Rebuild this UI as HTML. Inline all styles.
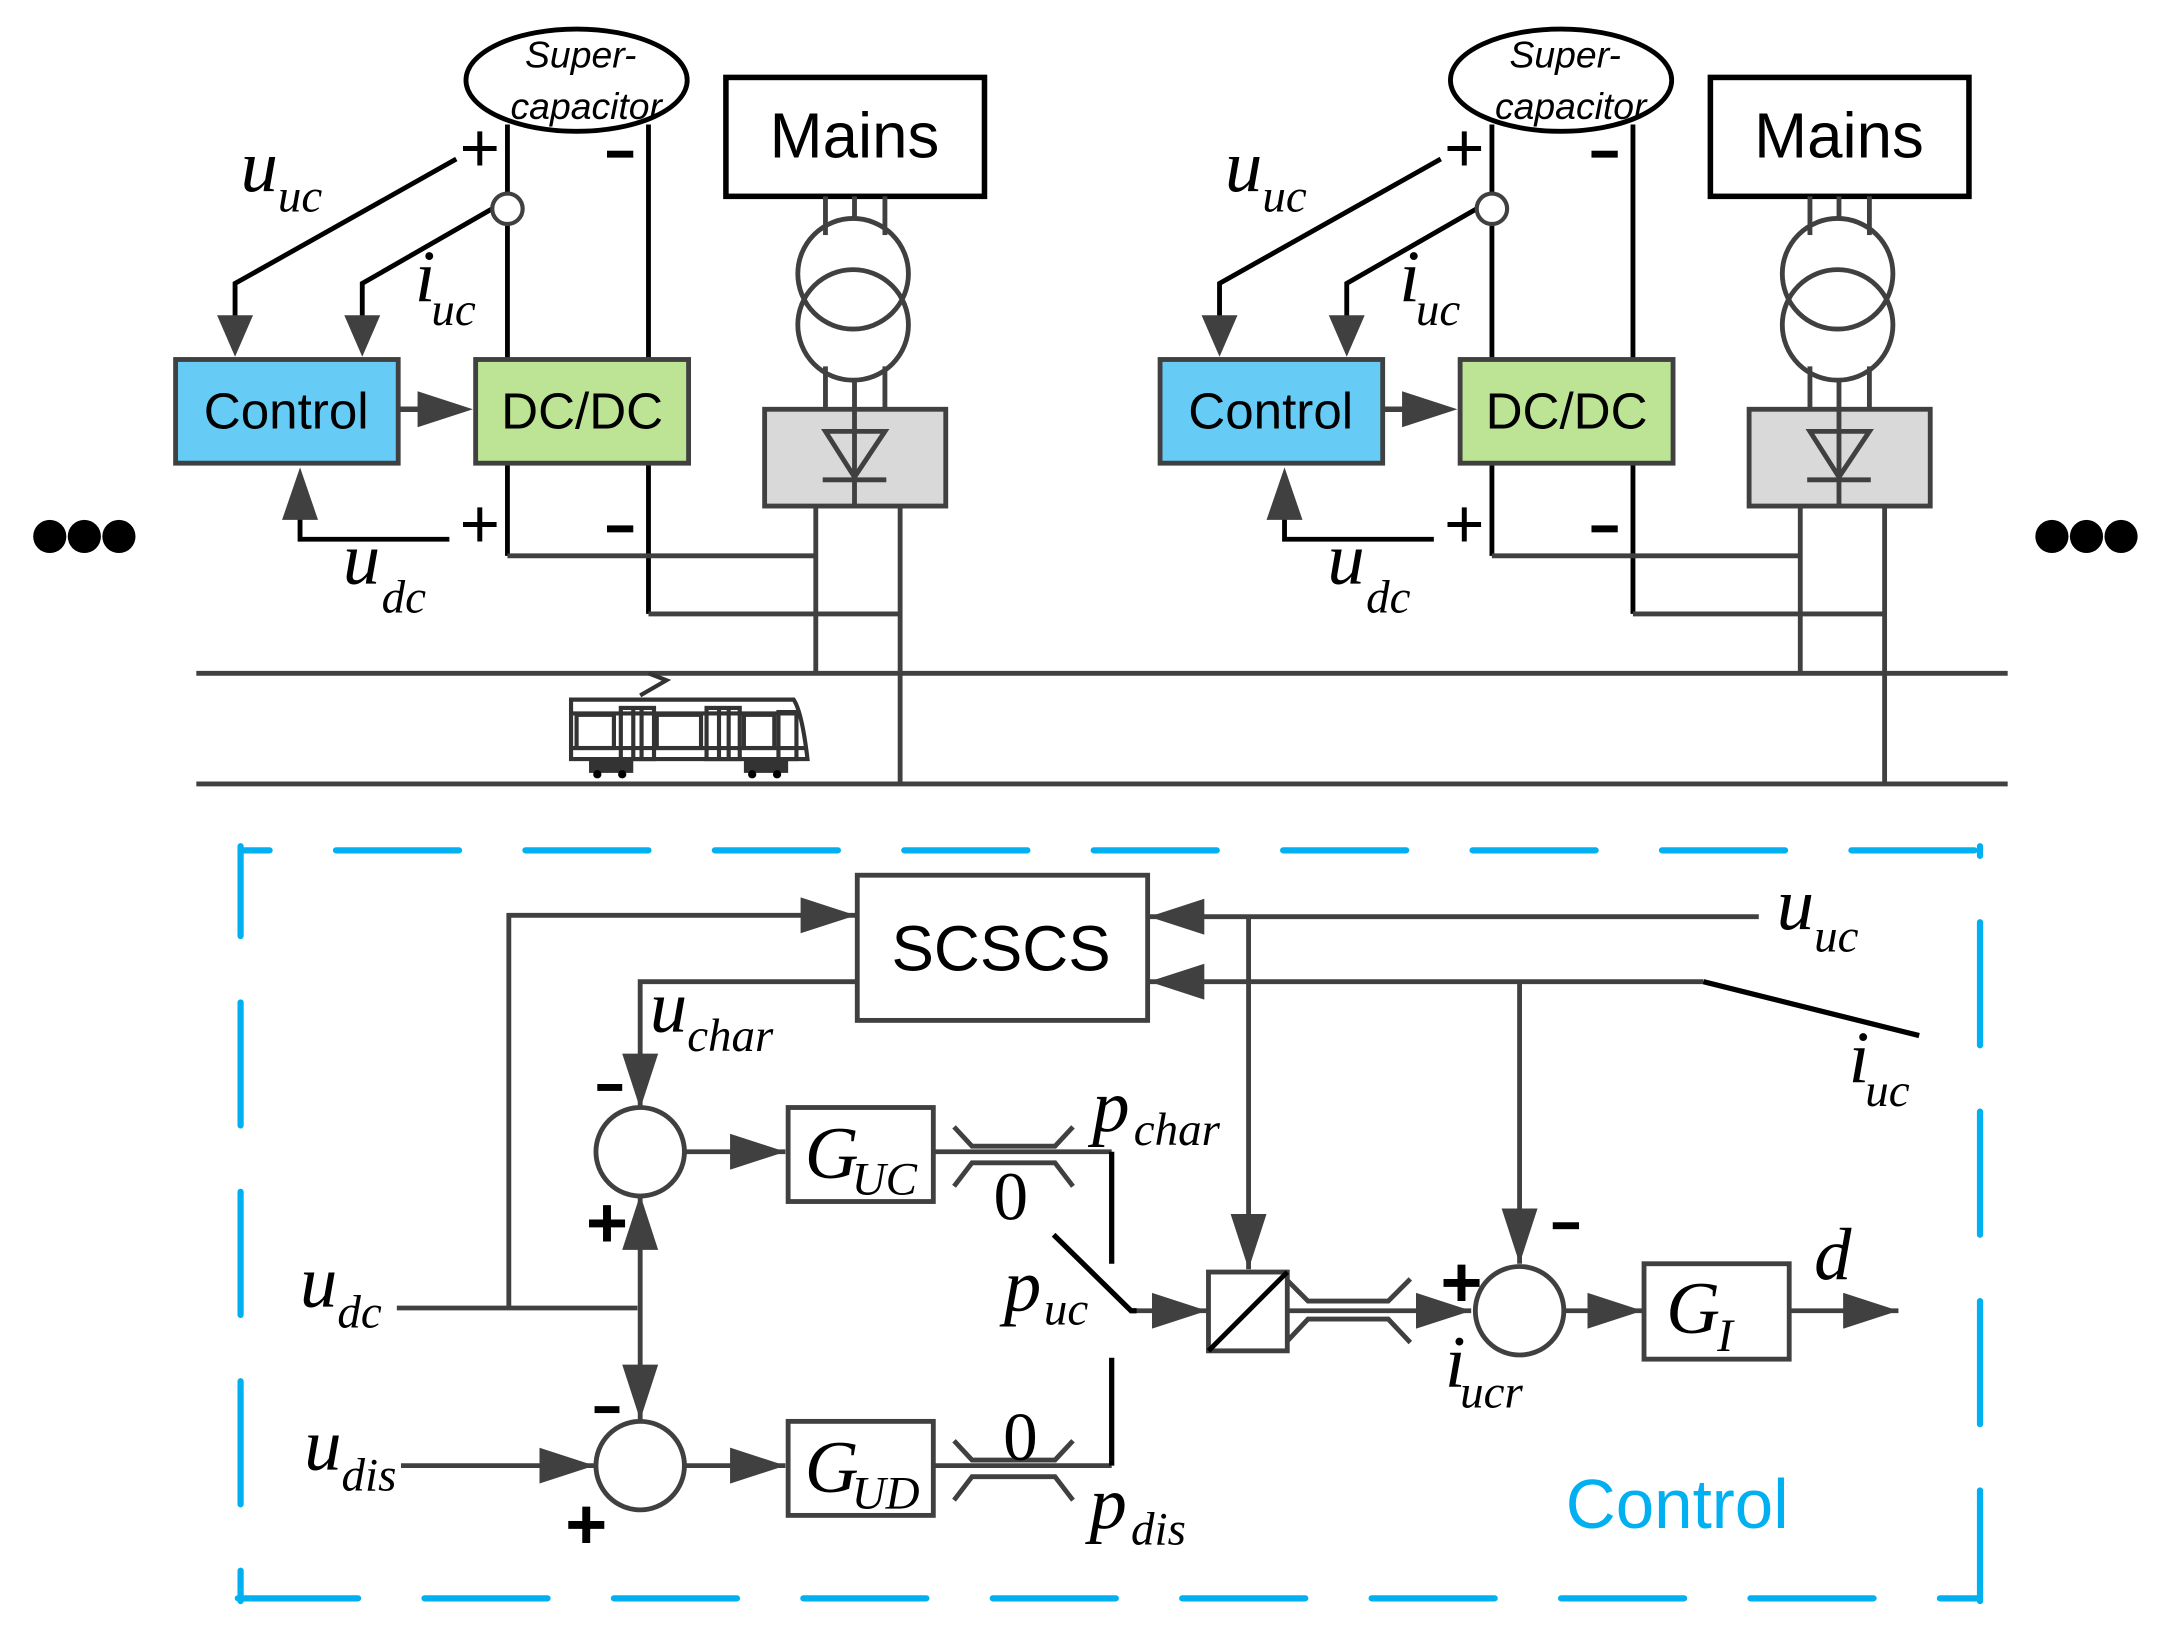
<!DOCTYPE html>
<html><head><meta charset="utf-8"><style>
html,body{margin:0;padding:0;background:#fff}
svg{display:block}
.m{font-family:"Liberation Serif",serif;font-style:italic;fill:#000}
.s{font-family:"Liberation Sans",sans-serif;fill:#000}
</style></head><body>
<svg width="2157" height="1626" viewBox="0 0 1560 1176" preserveAspectRatio="none" xmlns="http://www.w3.org/2000/svg">
<defs>
<g id="unit">
  <ellipse cx="417" cy="58" rx="80" ry="37" fill="#fff" stroke="#000" stroke-width="3.5"/>
  <text x="420" y="49" class="s" font-size="27" font-style="italic" text-anchor="middle">Super-</text>
  <text x="424" y="86" class="s" font-size="27" font-style="italic" text-anchor="middle">capacitor</text>
  <rect x="525" y="56" width="187" height="86" fill="#fff" stroke="#000" stroke-width="4"/>
  <text x="618" y="114" class="s" font-size="46" text-anchor="middle">Mains</text>
  <g stroke="#000" stroke-width="3.5" fill="none">
    <line x1="367" y1="90" x2="367" y2="260"/>
    <line x1="469" y1="90" x2="469" y2="260"/>
    <polyline points="330,115 170,205 170,230"/>
    <polyline points="356,151 262,205 262,230"/>
    <polyline points="325,390 217,390 217,370"/>
    <line x1="367" y1="335" x2="367" y2="402"/>
    <line x1="469" y1="335" x2="469" y2="444"/>
  </g>
  <circle cx="367" cy="151" r="11" fill="#fff" stroke="#404040" stroke-width="3"/>
  <polygon points="157,228 183,228 170,258" fill="#404040"/>
  <polygon points="249,228 275,228 262,258" fill="#404040"/>
  <polygon points="204,376 230,376 217,338" fill="#404040"/>
  <text x="347" y="124" class="s" font-size="50" text-anchor="middle">+</text>
  <rect x="439" y="109" width="19" height="5" fill="#000"/>
  <text x="347" y="396" class="s" font-size="50" text-anchor="middle">+</text>
  <rect x="439" y="380" width="19" height="5" fill="#000"/>
  <text x="174" y="138" class="m" font-size="54">u</text><text x="201" y="153" class="m" font-size="34">uc</text>
  <text x="300" y="218" class="m" font-size="54">i</text><text x="312" y="235" class="m" font-size="34">uc</text>
  <text x="248" y="422" class="m" font-size="54">u</text><text x="276" y="443" class="m" font-size="34">dc</text>
  <rect x="127" y="260" width="161" height="75" fill="#66ccf5" stroke="#404040" stroke-width="3.5"/>
  <text x="207" y="310" class="s" font-size="37" text-anchor="middle">Control</text>
  <rect x="344" y="260" width="154" height="75" fill="#bde395" stroke="#404040" stroke-width="3.5"/>
  <text x="421" y="310" class="s" font-size="37" text-anchor="middle">DC/DC</text>
  <line x1="288" y1="296" x2="310" y2="296" stroke="#404040" stroke-width="4"/>
  <polygon points="302,283 302,309 342,296" fill="#404040"/>
  <g stroke="#404040" stroke-width="3.5" fill="none">
    <line x1="597" y1="142" x2="597" y2="170"/>
    <line x1="618" y1="142" x2="618" y2="158"/>
    <line x1="640" y1="142" x2="640" y2="170"/>
    <line x1="597" y1="265" x2="597" y2="296"/>
    <line x1="618" y1="275" x2="618" y2="366"/>
    <line x1="640" y1="265" x2="640" y2="296"/>
    <line x1="367" y1="402" x2="590" y2="402"/>
    <line x1="469" y1="444" x2="651" y2="444"/>
    <line x1="590" y1="366" x2="590" y2="487"/>
    <line x1="651" y1="366" x2="651" y2="567"/>
  </g>
  <circle cx="617" cy="198" r="40" fill="none" stroke="#404040" stroke-width="3.5"/>
  <circle cx="617" cy="235" r="40" fill="none" stroke="#404040" stroke-width="3.5"/>
  <rect x="553" y="296" width="131" height="70" fill="#d9d9d9" stroke="#404040" stroke-width="3.5"/>
  <line x1="618" y1="296" x2="618" y2="366" stroke="#404040" stroke-width="3.5"/>
  <polygon points="597,312 640,312 618,345" fill="none" stroke="#404040" stroke-width="3.5"/>
  <line x1="595" y1="347" x2="641" y2="347" stroke="#404040" stroke-width="3.5"/>
</g>
<marker id="a" viewBox="0 0 40 26" refX="40" refY="13" markerWidth="40" markerHeight="26" markerUnits="userSpaceOnUse" orient="auto"><polygon points="0,0 40,13 0,26" fill="#404040"/></marker>
</defs>
<use href="#unit"/>
<use href="#unit" transform="translate(712,0)"/>
<g fill="#000"><circle cx="36" cy="388" r="12"/><circle cx="61" cy="388" r="12"/><circle cx="86" cy="388" r="12"/>
<circle cx="1484" cy="388" r="12"/><circle cx="1509" cy="388" r="12"/><circle cx="1534" cy="388" r="12"/></g>
<line x1="142" y1="487" x2="1452" y2="487" stroke="#404040" stroke-width="3.5"/>
<line x1="142" y1="567" x2="1452" y2="567" stroke="#404040" stroke-width="3.5"/>
<g stroke="#333" stroke-width="3" fill="none">
  <polyline points="463,503 482,492 469,487"/>
  <path d="M413,549 L413,506 L574,506 Q580,515 584,549 Z"/>
  <line x1="413" y1="516" x2="578" y2="516"/>
  <rect x="417" y="517" width="27" height="24"/><rect x="475" y="517" width="32" height="24"/><rect x="538" y="517" width="22" height="24"/>
  <rect x="449" y="512" width="24" height="37"/><rect x="511" y="512" width="24" height="37"/><rect x="563" y="515" width="13" height="34"/>
  <line x1="458" y1="512" x2="458" y2="549"/><line x1="464" y1="512" x2="464" y2="549"/>
  <line x1="520" y1="512" x2="520" y2="549"/><line x1="527" y1="512" x2="527" y2="549"/>
  <line x1="413" y1="541" x2="584" y2="541"/>
</g>
<g fill="#333"><rect x="426" y="549" width="32" height="10"/><rect x="538" y="549" width="32" height="10"/></g>
<g fill="#000"><circle cx="432" cy="560" r="3"/><circle cx="450" cy="560" r="3"/><circle cx="544" cy="560" r="3"/><circle cx="562" cy="560" r="3"/></g>
<g stroke="#00b0f0" stroke-width="4.5" fill="none" stroke-linecap="round">
  <line x1="174" y1="615" x2="1430" y2="615" stroke-dasharray="89 48" stroke-dashoffset="68"/>
  <line x1="174" y1="612" x2="174" y2="1158" stroke-dasharray="89 48" stroke-dashoffset="24"/>
  <line x1="172" y1="1156" x2="1430" y2="1156" stroke-dasharray="89 48" stroke-dashoffset="2"/>
  <line x1="1432" y1="612" x2="1432" y2="1158" stroke-dasharray="89 48" stroke-dashoffset="82"/>
</g>
<text x="1213" y="1105" class="s" font-size="50" text-anchor="middle" style="fill:#00b0f0">Control</text>
<rect x="620" y="633" width="210" height="105" fill="#fff" stroke="#404040" stroke-width="3.5"/>
<text x="724" y="702" class="s" font-size="46" text-anchor="middle">SCSCS</text>
<g stroke="#404040" stroke-width="3.5" fill="none">
  <polyline points="287,946 461,946" />
  <polyline points="368,946 368,662 619,662" marker-end="url(#a)"/>
  <polyline points="620,710 463,710 463,802" marker-end="url(#a)"/>
  <line x1="463" y1="946" x2="463" y2="864" marker-end="url(#a)"/>
  <line x1="463" y1="946" x2="463" y2="1027" marker-end="url(#a)"/>
  <line x1="495" y1="833" x2="568" y2="833" marker-end="url(#a)"/>
  <line x1="495" y1="1060" x2="568" y2="1060" marker-end="url(#a)"/>
  <line x1="290" y1="1060" x2="430" y2="1060" marker-end="url(#a)"/>
  <line x1="1272" y1="663" x2="831" y2="663" marker-end="url(#a)"/>
  <polyline points="1232,710 870,710"/>
  <line x1="870" y1="710" x2="831" y2="710" marker-end="url(#a)"/>
  <line x1="903" y1="663" x2="903" y2="918" marker-end="url(#a)"/>
  <line x1="1099" y1="710" x2="1099" y2="914" marker-end="url(#a)"/>
  <polyline points="675,833 804,833"/>
  <polyline points="675,1060 804,1060"/>
  <line x1="820" y1="948" x2="873" y2="948" marker-end="url(#a)"/>
  <line x1="930" y1="948" x2="1064" y2="948" marker-end="url(#a)"/>
  <line x1="1131" y1="948" x2="1188" y2="948" marker-end="url(#a)"/>
  <line x1="1293" y1="948" x2="1373" y2="948" marker-end="url(#a)"/>
  <polyline points="690,815 703,829 763,829 776,815"/><polyline points="690,858 703,841 763,841 776,858"/>
  <polyline points="690,1042 703,1056 763,1056 776,1042"/><polyline points="690,1085 703,1068 763,1068 776,1085"/>
  <polyline points="930,925 946,941 1004,941 1020,925"/><polyline points="930,971 946,954 1004,954 1020,971"/>
</g>
<g stroke="#000" stroke-width="3.8" fill="none">
  <line x1="804" y1="833" x2="804" y2="914"/>
  <line x1="804" y1="982" x2="804" y2="1060"/>
  <polyline points="762,893 818,948 822,948"/>
  <line x1="1232" y1="710" x2="1388" y2="749"/>
</g>
<circle cx="463" cy="833" r="32" fill="#fff" stroke="#404040" stroke-width="3.5"/>
<circle cx="463" cy="1060" r="32" fill="#fff" stroke="#404040" stroke-width="3.5"/>
<circle cx="1099" cy="948" r="32" fill="#fff" stroke="#404040" stroke-width="3.5"/>
<rect x="570" y="801" width="105" height="68" fill="#fff" stroke="#404040" stroke-width="3.5"/>
<rect x="570" y="1028" width="105" height="68" fill="#fff" stroke="#404040" stroke-width="3.5"/>
<rect x="874" y="920" width="57" height="57" fill="#fff" stroke="#404040" stroke-width="3.5"/>
<line x1="874" y1="977" x2="931" y2="920" stroke="#000" stroke-width="3.5"/>
<rect x="1189" y="914" width="105" height="69" fill="#fff" stroke="#404040" stroke-width="3.5"/>
<text x="582" y="852" class="m" font-size="54">G</text><text x="616" y="864" class="m" font-size="34">UC</text>
<text x="582" y="1079" class="m" font-size="54">G</text><text x="616" y="1091" class="m" font-size="34">UD</text>
<text x="1205" y="964" class="m" font-size="54">G</text><text x="1242" y="977" class="m" font-size="34">I</text>
<text x="731" y="882" class="m" font-size="50" text-anchor="middle" style="font-style:normal">0</text>
<text x="738" y="1056" class="m" font-size="50" text-anchor="middle" style="font-style:normal">0</text>
<text x="790" y="818" class="m" font-size="54">p</text><text x="820" y="828" class="m" font-size="34">char</text>
<text x="726" y="948" class="m" font-size="54">p</text><text x="755" y="958" class="m" font-size="34">uc</text>
<text x="788" y="1105" class="m" font-size="54">p</text><text x="818" y="1117" class="m" font-size="34">dis</text>
<text x="470" y="746" class="m" font-size="54">u</text><text x="497" y="760" class="m" font-size="34">char</text>
<text x="217" y="945" class="m" font-size="54">u</text><text x="244" y="960" class="m" font-size="34">dc</text>
<text x="220" y="1063" class="m" font-size="54">u</text><text x="247" y="1078" class="m" font-size="34">dis</text>
<text x="1285" y="672" class="m" font-size="54">u</text><text x="1312" y="688" class="m" font-size="34">uc</text>
<text x="1337" y="783" class="m" font-size="54">i</text><text x="1349" y="800" class="m" font-size="34">uc</text>
<text x="1045" y="1003" class="m" font-size="54">i</text><text x="1056" y="1018" class="m" font-size="34">ucr</text>
<text x="1312" y="925" class="m" font-size="54">d</text>
<g class="s" font-weight="bold" font-size="52" text-anchor="middle">
  <text x="439" y="902">+</text><text x="424" y="1120">+</text><text x="1057" y="945">+</text>
</g>
<g fill="#000">
  <rect x="432" y="784" width="18" height="5"/>
  <rect x="430" y="1017" width="18" height="5"/>
  <rect x="1123" y="884" width="19" height="5"/>
</g>
</svg>
</body></html>
